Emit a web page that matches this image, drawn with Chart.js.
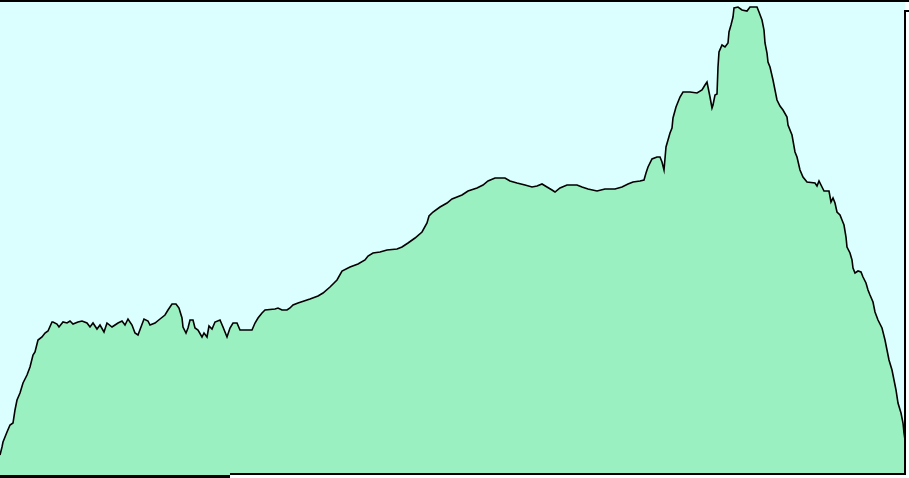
<!DOCTYPE html>
<html>
<head>
<meta charset="utf-8">
<script src="https://cdn.jsdelivr.net/npm/chart.js@4"></script>
<style>
  html, body { margin: 0; padding: 0; background: #ffffff; }
  #wrap { width: 909px; height: 478px; position: relative; }
</style>
</head>
<body>
<div id="wrap"><canvas id="c" width="909" height="478"></canvas></div>
<script>
// Profile: horizontal distance and elevation (arbitrary units)
const distance = [
  0,2,3,5,7,10,13,15,17,20,23,27,30,33,35,38,42,45,48,52,53,57,59,63,67,70,73,78,82,87,90,93,97,100,104,107,112,115,118,122,125,128,132,135,138,141,144,148,
  150,155,160,165,168,172,176,179,182,183,186,188,190,193,195,198,202,204,207,209,212,215,220,223,225,227,230,233,237,240,245,252,255,258,262,265,275,278,282,287,290,293,298,
  310,318,323,330,337,342,350,358,365,368,373,380,387,397,402,408,415,422,427,429,433,440,447,452,457,
  462,468,477,483,488,495,505,510,517,525,532,537,542,547,552,555,560,567,577,582,588,597,605,615,622,628,633,640,
  644,646,648,652,657,660,662,664,666,668,670,672,673,676,678,680,683,690,697,702,705,707,708,710,712,713,715,717,718,719,722,725,728,729,731,733,734,738,742,747,750,757,759,762,764,765,767,768,770,773,775,777,780,783,787,788,792,795,797,800,
  803,807,815,817,819,822,824,829,831,833,835,837,840,842,844,846,847,850,852,853,855,858,861,863,866,868,870,873,875,878,882,885,887,889,892,894,896,898,901,903,904,905
];
const elevation = [
  18,26,31,36,41,48,50,63,73,80,90,98,106,118,121,133,136,140,142,151,151,149,146,151,150,152,149,151,152,150,146,150,144,148,141,150,146,148,150,152,148,154,148,140,138,146,154,152,
  148,150,154,158,163,169,169,165,155,146,140,145,153,153,145,143,136,140,136,147,144,151,153,146,141,136,145,150,150,143,143,143,150,155,160,163,164,165,163,163,165,168,170,
  174,177,180,186,193,202,206,209,213,217,220,221,223,224,226,230,235,241,250,257,261,266,270,274,276,
  278,282,285,288,292,295,295,292,290,288,286,287,289,286,283,281,285,288,288,286,284,282,284,284,286,289,291,292,
  293,300,306,314,316,316,311,303,326,333,340,345,355,366,371,376,381,381,380,383,388,391,386,376,365,368,378,379,406,421,428,426,430,441,448,456,465,466,463,462,466,466,461,453,443,430,420,411,406,393,383,373,367,363,356,348,338,321,316,303,
  296,291,290,287,292,286,282,282,271,275,270,261,258,253,248,236,226,220,213,205,200,202,201,196,190,183,178,171,161,153,145,133,123,113,103,93,83,70,60,50,40,33
];
const xMin = 0, xMax = 905;
const yMin = 0, yMax = 473;

const points = distance.map((d, i) => ({ x: d, y: elevation[i] }));

const frame = {
  id: 'frame',
  beforeDraw(chart) {
    const { ctx, chartArea: a } = chart;
    ctx.save();
    ctx.fillStyle = '#dbffff';
    ctx.fillRect(a.left, a.top, a.right - a.left, a.bottom - a.top);
    ctx.restore();
  },
  afterDraw(chart) {
    const { ctx, chartArea: a, width } = chart;
    ctx.save();
    ctx.fillStyle = '#000000';
    // top rule
    ctx.fillRect(0, 0, width, 2);
    // right border with tick
    ctx.fillRect(a.right - 1, 10, 2, a.bottom - 10 + 2);
    ctx.fillRect(a.right, 10, width - a.right, 2);
    // bottom rule
    const split = 230;
    ctx.fillRect(split, a.bottom, a.right + 1 - split, 2);
    ctx.fillStyle = '#9af0c0';
    ctx.fillRect(0, a.bottom, split, 2);
    ctx.fillStyle = '#000000';
    ctx.fillRect(0, a.bottom + 2, split, 3);
    ctx.restore();
  }
};

new Chart(document.getElementById('c'), {
  type: 'line',
  data: {
    datasets: [{
      data: points,
      borderColor: '#000000',
      borderWidth: 1.6,
      backgroundColor: '#9af0c0',
      fill: 'origin',
      pointRadius: 0,
      tension: 0
    }]
  },
  options: {
    responsive: false,
    devicePixelRatio: 1,
    animation: false,
    layout: { padding: { left: 0, top: 0, right: 4, bottom: 5 } },
    plugins: { legend: { display: false }, tooltip: { enabled: false } },
    scales: {
      x: { type: 'linear', min: xMin, max: xMax, display: false },
      y: { type: 'linear', min: yMin, max: yMax, display: false }
    }
  },
  plugins: [frame]
});
</script>
</body>
</html>
